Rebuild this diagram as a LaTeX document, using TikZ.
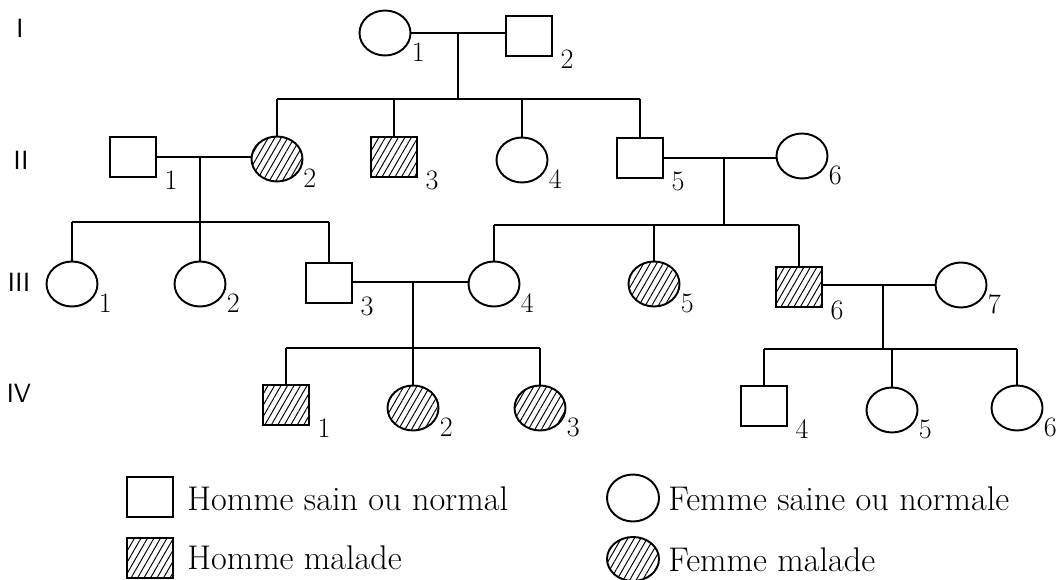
\documentclass[tikz,border=0pt]{standalone}
\usepackage{tikz}
\usetikzlibrary{shapes.geometric, calc}
\usetikzlibrary{patterns.meta}

\begin{document}
\begin{tikzpicture}[x=0.02cm, y=-0.02cm,
    homme/.style={draw, line width=1.1pt, minimum width=0.92cm, minimum height=0.8cm, inner sep=0pt},
    femme/.style={ellipse, draw, line width=1.1pt, minimum width=1.02cm, minimum height=0.9cm, inner sep=0pt},
    malade/.style={pattern={Lines[angle=60, distance=3.2pt, line width=0.55pt]}},
    num/.style={font=\fontsize{16}{16}\selectfont, anchor=west, inner sep=1pt, xshift=0.11cm, yshift=-0.06cm},
    gen/.style={font=\sffamily\fontsize{15}{15}\selectfont},
    legende/.style={font=\fontsize{19.5}{19.5}\selectfont, anchor=west, inner sep=0pt},
    lien/.style={line width=0.95pt}]
                \useasboundingbox (0,0) rectangle (1060,580);
                % Generations
                \node[gen] (gI) at (20,28) {I};
                \node[gen] (gII) at (21,160) {II};
                \node[gen] (gIII) at (19,282) {III};
                \node[gen] (gIV) at (19,393) {IV};
                % Generation I
                \node[femme, label={[num]-40:1}] (I1) at (385,33) {};
                \node[homme, label={[num]-40:2}] (I2) at (529,36) {};
                % Generation II
                \node[homme, label={[num]-40:1}] (II1) at (133,157) {};
                \node[femme, malade, label={[num]-40:2}] (II2) at (277,159) {};
                \node[homme, malade, label={[num]-40:3}] (II3) at (394,157) {};
                \node[femme, label={[num]-40:4}] (II4) at (522,160) {};
                \node[homme, label={[num]-40:5}] (II5) at (640,158) {};
                \node[femme, label={[num]-40:6}] (II6) at (802,156) {};
                % Generation III
                \node[femme, label={[num]-40:1}] (III1) at (72,284) {};
                \node[femme, label={[num]-40:2}] (III2) at (200,284) {};
                \node[homme, label={[num]-40:3}] (III3) at (329,283) {};
                \node[femme, label={[num]-40:4}] (III4) at (494,284) {};
                \node[femme, malade, label={[num]-40:5}] (III5) at (654,284) {};
                \node[homme, malade, label={[num]-40:6}] (III6) at (799,287) {};
                \node[femme, label={[num]-40:7}] (III7) at (961,285) {};
                % Generation IV
                \node[homme, malade, label={[num]-40:1}] (IV1) at (286,405) {};
                \node[femme, malade, label={[num]-40:2}] (IV2) at (413,408) {};
                \node[femme, malade, label={[num]-40:3}] (IV3) at (540,408) {};
                \node[homme, label={[num]-40:4}] (IV4) at (764,406) {};
                \node[femme, label={[num]-40:5}] (IV5) at (892,410) {};
                \node[femme, label={[num]-40:6}] (IV6) at (1017,408) {};
                % Unions and offspring
                \coordinate (m1) at (458,33);
                \coordinate (s1) at (458,99);
                \draw[lien] (I1.east) -- (I1.east -| I2.west);
                \draw[lien] (m1) -- (s1);
                \draw[lien] (II2.north |- s1) -- (II5.north |- s1);
                \foreach \c in {II2,II3,II4,II5}
                    \draw[lien] (\c.north) -- (\c.north |- s1);
                \coordinate (m2) at (200,157);
                \coordinate (s2) at (200,222);
                \draw[lien] (II1.east) -- (II1.east -| II2.west);
                \draw[lien] (m2) -- (III2.north);
                \draw[lien] (III1.north |- s2) -- (III3.north |- s2);
                \foreach \c in {III1,III3}
                    \draw[lien] (\c.north) -- (\c.north |- s2);
                \coordinate (m3) at (724,158);
                \coordinate (s3) at (724,225);
                \draw[lien] (II5.east) -- (II5.east -| II6.west);
                \draw[lien] (m3) -- (s3);
                \draw[lien] (III4.north |- s3) -- (III6.north |- s3);
                \foreach \c in {III4,III5,III6}
                    \draw[lien] (\c.north) -- (\c.north |- s3);
                \coordinate (m4) at (413,282);
                \coordinate (s4) at (413,348);
                \draw[lien] (III3.east |- m4) -- (III4.west |- m4);
                \draw[lien] (m4) -- (s4);
                \draw[lien] (IV1.north |- s4) -- (IV3.north |- s4);
                \foreach \c in {IV1,IV2,IV3}
                    \draw[lien] (\c.north) -- (\c.north |- s4);
                \coordinate (m5) at (883,285);
                \coordinate (s5) at (883,349);
                \draw[lien] (III6.east |- m5) -- (III7.west |- m5);
                \draw[lien] (m5) -- (s5);
                \draw[lien] (IV4.north |- s5) -- (IV6.north |- s5);
                \foreach \c in {IV4,IV5,IV6}
                    \draw[lien] (\c.north) -- (\c.north |- s5);
                % Legend
                \node[homme] (legH) at (150,497) {};
                \node[homme, malade] (legHM) at (150,558) {};
                \node[femme, minimum width=1.04cm, minimum height=0.94cm] (legF) at (633,498) {};
                \node[femme, malade, minimum width=1.04cm, minimum height=0.88cm] (legFM) at (633,559) {};
                \node[legende] (txtH) at (187,499) {Homme sain ou normal};
                \node[legende] (txtHM) at (187,558) {Homme malade};
                \node[legende] (txtF) at (668,499) {Femme saine ou normale};
                \node[legende] (txtFM) at (668,560) {Femme malade};
            \end{tikzpicture}
\end{document}
